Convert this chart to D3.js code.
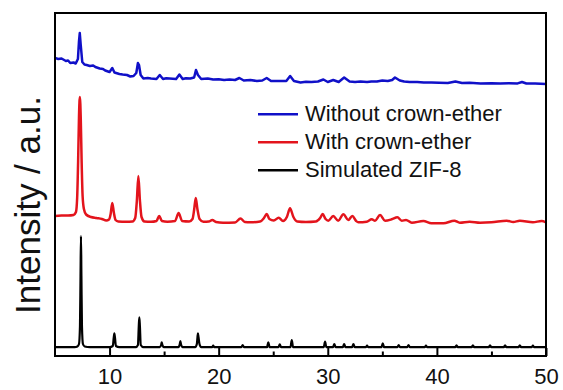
<!DOCTYPE html>
<html>
<head>
<meta charset="utf-8">
<script src="https://cdn.jsdelivr.net/npm/d3@7"></script>
<style>
  body { margin: 0; background: #fff; }
  text { font-family: Arial, "Liberation Sans", sans-serif; }
</style>
</head>
<body>
<div class="container"></div>
<script>
// 2-theta (deg), intensity (a.u., already stacked)
let withoutCrown = [
  [5.0, 298], [5.3, 297], [5.6, 297.5], [6.0, 295], [6.2, 295.5], [6.4, 293], [6.7, 293.5], [6.9, 292.5],
  [7.1, 297], [7.2, 315], [7.27, 323], [7.35, 312], [7.5, 294], [7.7, 291.5], [7.9, 291], [8.2, 290],
  [8.5, 290.5], [8.7, 289], [9.1, 287.5], [9.4, 287], [9.6, 285.5], [10.0, 284], [10.25, 288], [10.45, 283.5],
  [10.9, 282], [11.2, 281.5], [11.6, 281], [11.9, 279.5], [12.2, 280], [12.45, 283], [12.6, 293], [12.7, 291],
  [12.85, 281], [13.1, 277.5], [13.5, 278], [13.8, 277.5], [14.3, 277], [14.6, 281], [14.9, 277], [15.2, 277.8],
  [15.5, 277.5], [16.1, 277], [16.4, 281.5], [16.7, 277], [17.0, 277.8], [17.4, 277.5], [17.75, 278.5], [17.92, 286],
  [18.1, 281], [18.4, 277], [19.0, 277.5], [19.5, 276.5], [20.0, 276.8], [20.5, 276], [21.0, 276.5], [21.5, 276],
  [21.9, 278], [22.3, 275.5], [22.9, 276], [23.5, 275], [24.0, 275.5], [24.4, 278], [24.8, 275], [25.5, 275],
  [26.2, 275], [26.55, 280], [26.9, 275], [27.5, 273.5], [28.0, 274.3], [28.5, 274], [29.1, 274.5], [29.6, 276.5],
  [30.0, 274], [30.5, 276], [31.0, 274], [31.5, 278.5], [32.0, 274.5], [32.5, 274], [33.0, 274.4], [33.6, 274],
  [34.0, 274.6], [34.5, 274.5], [35.0, 275.5], [35.5, 275], [35.9, 276], [36.16, 278.5], [36.6, 275.5], [37.0, 274.5],
  [37.5, 274], [38.2, 274], [38.8, 273.5], [39.5, 273.5], [40.2, 273.2], [41.0, 273], [41.7, 274.5], [42.3, 273],
  [43.0, 273.2], [44.0, 272.5], [45.0, 272.8], [45.8, 272.5], [46.6, 272.8], [47.4, 272.6], [47.8, 274], [48.2, 272.5],
  [49.0, 272.5], [49.5, 272.2], [50.0, 272]
]

let withCrown = [
  [5.0, 140], [5.6, 140.5], [6.2, 140.5], [6.7, 141], [6.92, 144], [7.03, 158], [7.12, 195], [7.2, 240],
  [7.28, 259], [7.36, 238], [7.44, 195], [7.53, 160], [7.65, 147], [7.85, 141.5], [8.3, 139], [8.8, 138],
  [9.3, 137], [9.7, 135.5], [9.95, 136.5], [10.1, 142], [10.25, 153], [10.4, 143], [10.55, 136], [10.8, 134.5],
  [11.5, 134.2], [12.1, 134.5], [12.35, 138], [12.5, 155], [12.64, 180], [12.78, 156], [12.93, 139], [13.2, 134.5],
  [13.8, 134.2], [14.3, 135], [14.55, 140], [14.8, 135], [15.3, 134.3], [16.0, 135], [16.33, 143], [16.65, 135],
  [17.3, 134.5], [17.6, 137], [17.75, 146], [17.9, 158], [18.05, 147], [18.25, 137], [18.6, 134.3], [19.1, 134.5],
  [19.42, 136], [19.75, 134], [20.4, 133.3], [21.5, 133.5], [22.0, 137.5], [22.4, 134], [22.9, 133.7], [23.8, 134.5],
  [24.15, 138], [24.4, 142], [24.65, 137], [25.05, 135.5], [25.5, 138.3], [25.9, 135], [26.25, 139], [26.54, 147.7],
  [26.85, 139], [27.2, 134.5], [28.0, 134], [28.9, 134.5], [29.3, 138], [29.53, 142], [29.8, 137], [30.05, 135.3],
  [30.5, 140], [30.95, 135.3], [31.43, 141.7], [31.88, 136], [32.25, 140], [32.6, 135], [32.8, 133.7], [33.57, 134.3],
  [34.03, 136.7], [34.33, 135.3], [34.79, 141], [35.25, 135.3], [35.86, 136.7], [36.38, 138.7], [36.78, 135.3], [37.17, 136],
  [37.7, 133.3], [38.76, 135], [39.5, 132.7], [40.6, 132.7], [41.6, 135.3], [42.1, 133.3], [43.0, 134.3], [43.96, 133.3],
  [45.0, 133.7], [46.4, 135.3], [47.0, 134], [47.6, 135.3], [48.8, 133.7], [49.6, 135], [50.0, 133.7]
]

let simulated = [
  [5.0, 8.8], [6.8, 8.8], [7.05, 9.5], [7.2, 12], [7.29, 30], [7.34, 80], [7.38, 120], [7.42, 80],
  [7.47, 30], [7.56, 12], [7.72, 9.5], [8.2, 8.8], [10.0, 8.8], [10.3, 10], [10.38, 18], [10.44, 22.7],
  [10.5, 18], [10.58, 10], [10.9, 8.8], [12.4, 8.8], [12.6, 11], [12.68, 30], [12.73, 38.7], [12.78, 30],
  [12.86, 11], [13.1, 8.8], [14.6, 8.8], [14.73, 11], [14.78, 13.7], [14.84, 11], [15.0, 8.8], [16.3, 8.8],
  [16.43, 11.5], [16.49, 15], [16.55, 11.5], [16.7, 8.8], [17.85, 8.8], [18.0, 12], [18.06, 19], [18.1, 22.7],
  [18.15, 19], [18.24, 12], [18.4, 8.8], [19.4, 8.8], [19.5, 10.3], [19.6, 8.8], [22.08, 8.8], [22.2, 11],
  [22.32, 8.8], [24.43, 8.8], [24.55, 13.7], [24.67, 8.8], [25.48, 8.8], [25.6, 11.7], [25.72, 8.8], [26.58, 8.8],
  [26.7, 16], [26.82, 8.8], [29.63, 8.8], [29.75, 14.3], [29.87, 8.8], [30.48, 8.8], [30.6, 12], [30.72, 8.8],
  [31.38, 8.8], [31.5, 12], [31.62, 8.8], [32.23, 8.8], [32.35, 12], [32.47, 8.8], [33.48, 8.8], [33.6, 10.3],
  [33.72, 8.8], [34.92, 8.8], [35.04, 12.7], [35.16, 8.8], [36.38, 8.8], [36.5, 11], [36.62, 8.8], [37.28, 8.8],
  [37.4, 11], [37.52, 8.8], [38.88, 8.8], [39.0, 10.3], [39.12, 8.8], [41.68, 8.8], [41.8, 10.7], [41.92, 8.8],
  [43.18, 8.8], [43.3, 10.7], [43.42, 8.8], [44.75, 8.8], [44.87, 10.7], [44.99, 8.8], [46.13, 8.8], [46.25, 10.7],
  [46.37, 8.8], [47.48, 8.8], [47.6, 10.7], [47.72, 8.8], [48.68, 8.8], [48.8, 10.3], [48.92, 8.8], [50.0, 8.8]
]

let seriesNames = ['Without crown-ether', 'With crown-ether', 'Simulated ZIF-8']
let seriesColors = ['#1010c8', '#e3141c', '#000000']
let majorTicks = [10, 20, 30, 40, 50]
let minorTicks = [15, 25, 35, 45]

let svg = d3.select('.container')
    .append('svg')
    .attr('width', 563)
    .attr('height', 390)

svg.append('rect')
    .attr('width', 563)
    .attr('height', 390)
    .attr('fill', '#fff')

let plotLeft = 55, plotRight = 546, plotTop = 13, plotBottom = 356

let x = d3.scaleLinear().domain([5, 50]).range([plotLeft, plotRight])
let y = d3.scaleLinear().domain([0, 343]).range([plotBottom, plotTop])

let line = d3.line()
    .x((d) => x(d[0]))
    .y((d) => y(d[1]))

svg.append('clipPath').attr('id', 'plot')
    .append('rect')
    .attr('x', plotLeft).attr('y', plotTop)
    .attr('width', plotRight - plotLeft).attr('height', plotBottom - plotTop)

let plot = svg.append('g').attr('clip-path', 'url(#plot)')

plot.append('path')
    .attr('d', line.curve(d3.curveLinear)(withoutCrown))
    .attr('fill', 'none')
    .attr('stroke', seriesColors[0])
    .attr('stroke-width', 2.5)
    .attr('stroke-linejoin', 'round')

plot.append('path')
    .attr('d', line.curve(d3.curveMonotoneX)(withCrown))
    .attr('fill', 'none')
    .attr('stroke', seriesColors[1])
    .attr('stroke-width', 2.5)

plot.append('path')
    .attr('d', line.curve(d3.curveMonotoneX)(simulated))
    .attr('fill', 'none')
    .attr('stroke', seriesColors[2])
    .attr('stroke-width', 2.2)

let xAxis = svg.append('g')
    .attr('transform', `translate(0,${plotBottom})`)
    .call(d3.axisBottom(x).tickValues(majorTicks).tickSize(-8).tickPadding(12).tickFormat(d3.format('d')))

xAxis.select('.domain').remove()
xAxis.selectAll('line').attr('stroke', '#000').attr('stroke-width', 2)
xAxis.selectAll('text')
    .attr('fill', '#111')
    .style('font-size', '22px')

let xMinor = svg.append('g')
    .attr('transform', `translate(0,${plotBottom})`)
    .call(d3.axisBottom(x).tickValues(minorTicks).tickSize(-4.5).tickFormat(''))

xMinor.select('.domain').remove()
xMinor.selectAll('line').attr('stroke', '#000').attr('stroke-width', 2)

svg.append('rect')
    .attr('x', plotLeft)
    .attr('y', plotTop)
    .attr('width', plotRight - plotLeft)
    .attr('height', plotBottom - plotTop)
    .attr('fill', 'none')
    .attr('stroke', '#000')
    .attr('stroke-width', 2)

svg.append('text')
    .attr('transform', 'translate(39.5,205) rotate(-90)')
    .attr('text-anchor', 'middle')
    .attr('fill', '#111')
    .style('font-size', '35px')
    .text('Intensity / a.u.')

let legend = svg.append('g')
    .selectAll('g')
    .data(seriesNames)
    .enter().append('g')
    .attr('transform', (d, i) => `translate(258,${114.3 + i * 28})`)

legend.append('line')
    .attr('x1', 0)
    .attr('x2', 40)
    .attr('stroke', (d, i) => seriesColors[i])
    .attr('stroke-width', 2.6)

legend.append('text')
    .attr('x', 47)
    .attr('y', 6.5)
    .attr('fill', '#111')
    .style('font-size', '22px')
    .text((d) => d)
</script>
</body>
</html>
